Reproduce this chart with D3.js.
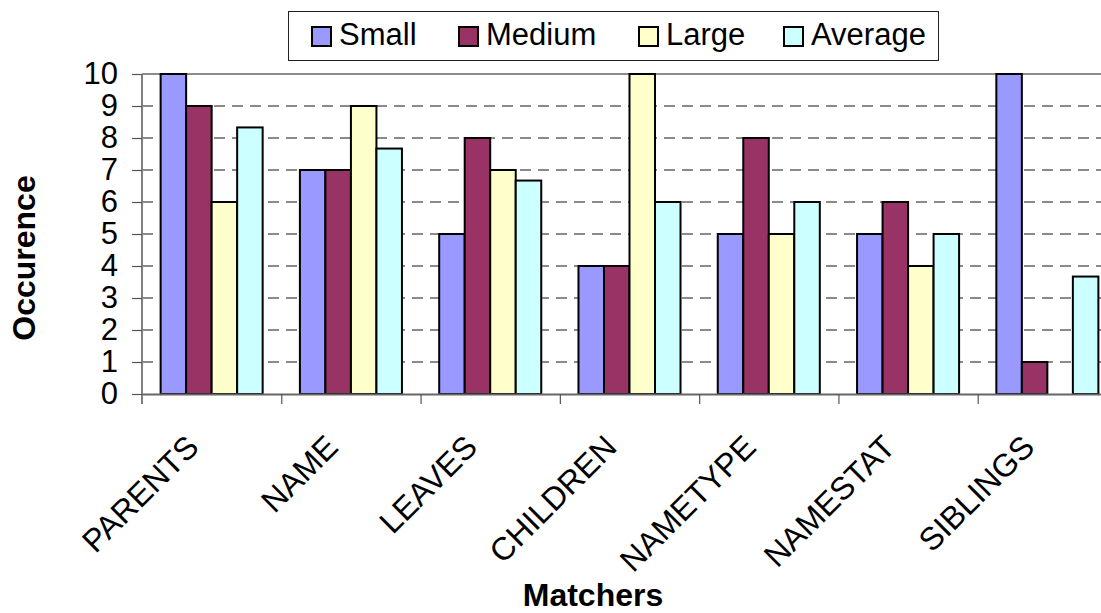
<!DOCTYPE html>
<html>
<head>
<meta charset="utf-8">
<script src="https://cdn.jsdelivr.net/npm/d3@7/dist/d3.min.js"></script>
<style>
  html, body { margin: 0; padding: 0; background: #fff; }
  svg { display: block; font-family: "Liberation Sans", Arial, sans-serif; }
</style>
</head>
<body>
<svg id="chart" width="1101" height="613"></svg>
<script>
// Matcher occurrence counts per dataset size
const categories = ["PARENTS", "NAME", "LEAVES", "CHILDREN", "NAMETYPE", "NAMESTAT", "SIBLINGS"];
const seriesNames = ["Small", "Medium", "Large", "Average"];
const small   = [10, 7, 5, 4, 5, 5, 10];
const medium  = [9, 7, 8, 4, 8, 6, 1];
const large   = [6, 9, 7, 10, 5, 4, 0];
const average = [8.33, 7.67, 6.67, 6, 6, 5, 3.67];
const yTicks  = [0, 1, 2, 3, 4, 5, 6, 7, 8, 9, 10];
const colors  = ["#9999FF", "#993366", "#FFFFCC", "#CCFFFF"];

const seriesValues = [small, medium, large, average];

const svg = d3.select("#chart");
const plot = { left: 142, right: 1117, top: 74, bottom: 394 };

const x0 = d3.scaleBand().domain(categories).range([plot.left, plot.right]).padding(0);
const x1 = d3.scaleBand().domain(seriesNames).range([0, x0.bandwidth()])
  .paddingInner(0).paddingOuter(0.73);
const y = d3.scaleLinear().domain([0, 10]).range([plot.bottom, plot.top]);
const color = d3.scaleOrdinal().domain(seriesNames).range(colors);

// dashed horizontal gridlines
svg.append("g")
  .selectAll("line")
  .data(yTicks.filter(t => t > 0 && t < 10))
  .join("line")
  .attr("x1", plot.left).attr("x2", plot.right)
  .attr("y1", d => y(d)).attr("y2", d => y(d))
  .attr("stroke", "#666").attr("stroke-width", 1.5)
  .attr("stroke-dasharray", "11,7");

// solid top edge of the plot area
svg.append("line")
  .attr("x1", plot.left).attr("x2", plot.right)
  .attr("y1", y(10)).attr("y2", y(10))
  .attr("stroke", "#8c8c8c").attr("stroke-width", 2);

// bars
const rows = categories.map((c, i) => ({
  category: c,
  values: seriesNames.map((s, k) => ({ series: s, value: seriesValues[k][i] }))
}));

svg.append("g")
  .selectAll("g")
  .data(rows)
  .join("g")
  .attr("transform", d => `translate(${x0(d.category)},0)`)
  .selectAll("rect")
  .data(d => d.values.filter(v => v.value > 0))
  .join("rect")
  .attr("x", d => x1(d.series))
  .attr("width", x1.bandwidth())
  .attr("y", d => y(d.value))
  .attr("height", d => y(0) - y(d.value))
  .attr("fill", d => color(d.series))
  .attr("stroke", "#000")
  .attr("stroke-width", 2);

// y axis
const yAxis = svg.append("g")
  .attr("transform", `translate(${plot.left},0)`)
  .call(d3.axisLeft(y).tickValues(yTicks).tickFormat(d3.format("d")).tickSize(10).tickPadding(14));
yAxis.select(".domain").attr("stroke", "#808080").attr("stroke-width", 2)
  .attr("d", `M0,${y(10)}V${plot.bottom + 10}`);
yAxis.selectAll(".tick line").attr("stroke", "#555").attr("stroke-width", 1.2);
yAxis.selectAll(".tick text")
  .attr("font-size", 31).attr("fill", "#000")
  .attr("font-family", "'Liberation Sans', Arial, sans-serif");

// x axis line and group boundary ticks
const xb = d3.scaleLinear().domain([0, categories.length]).range([plot.left, plot.right]);
const xTickAxis = svg.append("g")
  .attr("transform", `translate(0,${plot.bottom})`)
  .call(d3.axisBottom(xb).tickValues(d3.range(1, categories.length + 1)).tickFormat("").tickSize(10).tickSizeOuter(0));
xTickAxis.select(".domain").attr("stroke", "#666").attr("stroke-width", 2);
xTickAxis.selectAll(".tick line").attr("stroke", "#555").attr("stroke-width", 1.2);

// category labels, rotated
const xLab = svg.append("g")
  .attr("transform", `translate(0,${plot.bottom})`)
  .call(d3.axisBottom(x0).tickSize(0).tickPadding(0));
xLab.select(".domain").remove();
xLab.selectAll(".tick text")
  .attr("font-size", 32).attr("fill", "#000")
  .attr("font-family", "'Liberation Sans', Arial, sans-serif")
  .attr("text-anchor", "end")
  .attr("dy", null).attr("y", null)
  .attr("transform", "translate(-11,55) rotate(-45)");

// axis titles
svg.append("text")
  .attr("x", 593).attr("y", 606)
  .attr("text-anchor", "middle")
  .attr("font-size", 32).attr("font-weight", "bold")
  .text("Matchers");

svg.append("text")
  .attr("transform", "translate(35,258) rotate(-90)")
  .attr("text-anchor", "middle")
  .attr("font-size", 32).attr("font-weight", "bold")
  .text("Occurence");

// legend
const legend = svg.append("g");
legend.append("rect")
  .attr("x", 288.5).attr("y", 11.5).attr("width", 650).attr("height", 49)
  .attr("fill", "#fff").attr("stroke", "#222").attr("stroke-width", 1);
const legendX = [312, 459, 639, 784];
const item = legend.selectAll("g.item")
  .data(seriesNames)
  .join("g")
  .attr("class", "item")
  .attr("transform", (d, i) => `translate(${legendX[i]},0)`);
item.append("rect")
  .attr("x", 0).attr("y", 27).attr("width", 19).attr("height", 19)
  .attr("fill", d => color(d)).attr("stroke", "#000").attr("stroke-width", 2);
item.append("text")
  .attr("x", 27).attr("y", 45)
  .attr("font-size", 31).attr("fill", "#000")
  .text(d => d);
</script>
</body>
</html>
